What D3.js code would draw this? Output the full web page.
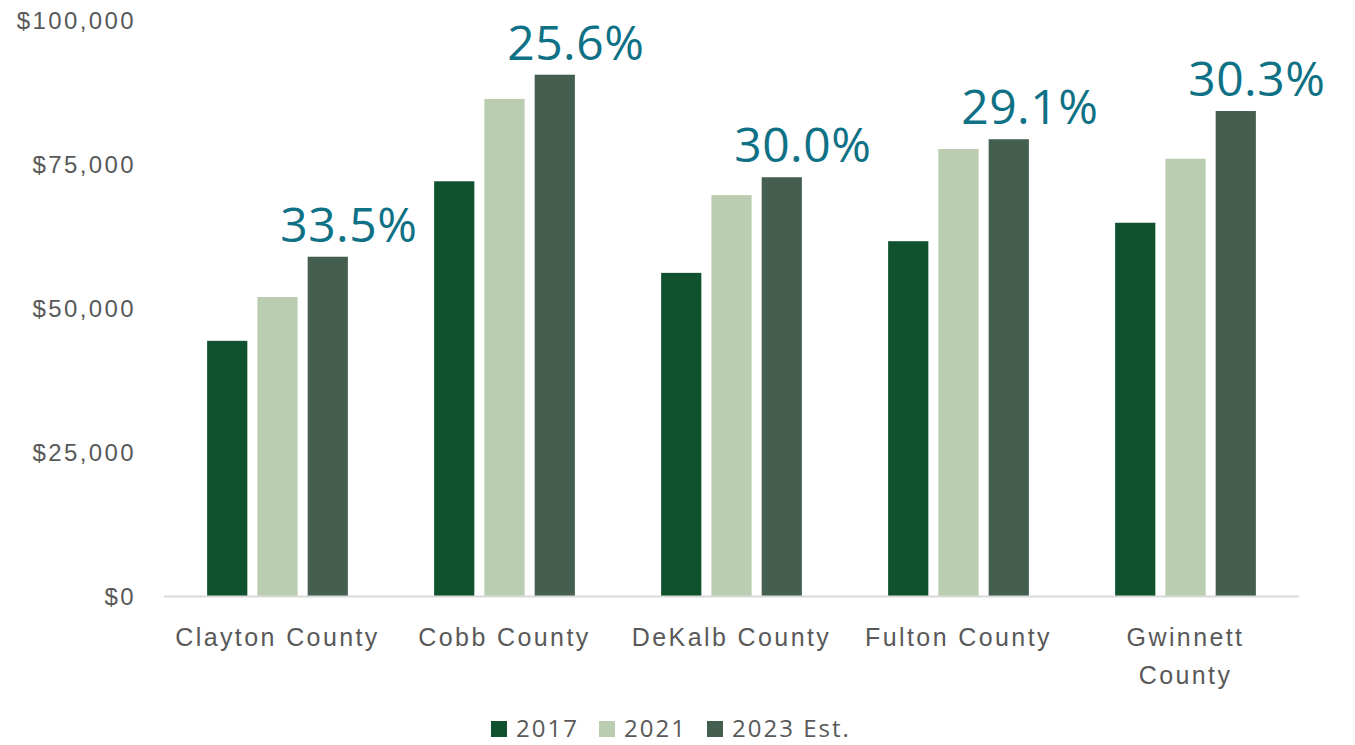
<!DOCTYPE html>
<html>
<head>
<meta charset="utf-8">
<script src="https://cdn.jsdelivr.net/npm/d3@7"></script>
<style>
  body { margin: 0; background: #fff; }
  svg { display: block; font-family: "Open Sans", sans-serif; }
</style>
</head>
<body>
<svg width="1355" height="745"></svg>
<script>
const counties = ['Clayton County', 'Cobb County', 'DeKalb County', 'Fulton County', 'Gwinnett County'];
const years = ['2017', '2021', '2023 Est.'];
const values2017 = [44300, 72000, 56100, 61600, 64800];
const values2021 = [51900, 86300, 69600, 77600, 75900];
const values2023 = [58900, 90500, 72700, 79300, 84200];
const growthLabels = ['33.5%', '25.6%', '30.0%', '29.1%', '30.3%'];
const yTicks = [0, 25000, 50000, 75000, 100000];

const colors = ['#10522e', '#bacdb0', '#445e50'];
const textGray = '#595959';

const svg = d3.select('svg');
const margin = {top: 20, left: 164, right: 56, bottom: 149};
const width = +svg.attr('width'), height = +svg.attr('height');

const rows = counties.map((c, i) => ({
    county: c,
    vals: [values2017[i], values2021[i], values2023[i]],
    label: growthLabels[i]
}));

const x = d3.scaleBand()
    .domain(counties)
    .range([margin.left, width - margin.right])
    .padding(0);

const xInner = d3.scaleBand()
    .domain(years)
    .range([x.bandwidth() * 0.19, x.bandwidth() * 0.81])
    .paddingInner(0.2);

const y = d3.scaleLinear()
    .domain([0, 100000])
    .range([height - margin.bottom, margin.top]);

// y axis labels, no line
const yAxis = svg.append('g')
    .attr('transform', `translate(${margin.left - 25},0)`)
    .call(d3.axisLeft(y).tickValues(yTicks).tickSize(0).tickFormat(d => '$' + d3.format(',')(d)));
yAxis.select('.domain').remove();
yAxis.selectAll('text')
    .attr('fill', textGray)
    .style('font-size', '24px')
    .style('letter-spacing', '2.4px')
    .attr('dy', '0.35em');

// bars
const groups = svg.append('g')
    .selectAll('g')
    .data(rows)
    .enter()
    .append('g')
    .attr('transform', d => `translate(${x(d.county)},0)`);

groups.selectAll('rect')
    .data(d => d.vals.map((v, i) => ({year: years[i], v, i})))
    .enter()
    .append('rect')
    .attr('x', d => xInner(d.year))
    .attr('width', xInner.bandwidth())
    .attr('y', d => y(d.v))
    .attr('height', d => y(0) - y(d.v))
    .attr('fill', d => colors[d.i]);

// growth labels above the 2023 bar
groups.append('text')
    .attr('x', xInner('2023 Est.') + xInner.bandwidth() / 2 + 21)
    .attr('y', d => y(d.vals[2]) - 15)
    .attr('text-anchor', 'middle')
    .attr('fill', '#0e7185')
    .style('font-size', '48px')
    .style('letter-spacing', '0.5px')
    .text(d => d.label);

// x axis
svg.append('line')
    .attr('x1', margin.left)
    .attr('x2', width - margin.right)
    .attr('y1', y(0) + 0.5)
    .attr('y2', y(0) + 0.5)
    .attr('stroke', '#d9d9d9')
    .attr('stroke-width', 2);

const xAxis = svg.append('g')
    .attr('transform', `translate(0,${y(0)})`)
    .call(d3.axisBottom(x).tickSize(0).tickPadding(0));
xAxis.select('.domain').remove();
xAxis.selectAll('text')
    .attr('fill', textGray)
    .style('font-size', '25px')
    .style('letter-spacing', '2.4px')
    .attr('y', 50)
    .attr('dy', 0)
    .each(function () { wrap(d3.select(this), 216); });

function wrap(text, maxW) {
    if (text.node().getComputedTextLength() <= maxW) return;
    const words = text.text().split(/\s+/);
    text.text(null);
    words.forEach((w, i) => {
        text.append('tspan')
            .attr('x', 0)
            .attr('dy', i === 0 ? 0 : 38)
            .text(w);
    });
}

// legend
const legend = svg.append('g').attr('transform', 'translate(0,729)');
const legendX = [491, 599, 707];
years.forEach((yr, i) => {
    legend.append('rect')
        .attr('x', legendX[i])
        .attr('y', -8)
        .attr('width', 16)
        .attr('height', 16)
        .attr('fill', colors[i]);
    legend.append('text')
        .attr('x', legendX[i] + 25)
        .attr('y', 0)
        .attr('dy', '0.35em')
        .attr('fill', textGray)
        .style('font-size', '24px')
        .style('letter-spacing', '2px')
        .text(yr);
});
</script>
</body>
</html>
